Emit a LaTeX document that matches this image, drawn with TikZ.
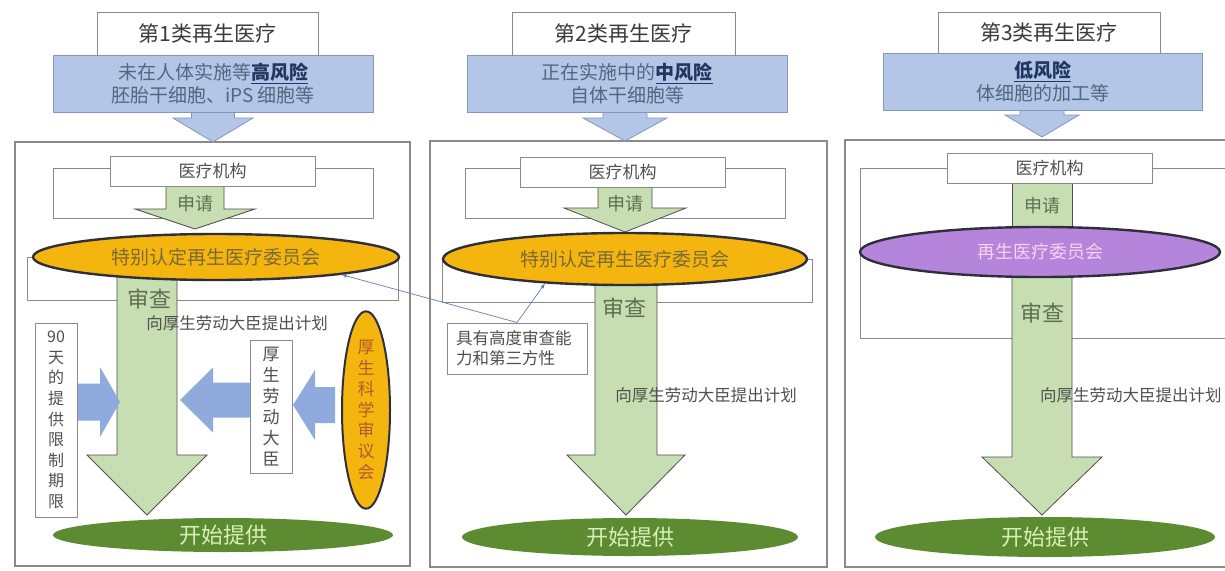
\documentclass[tikz,border=0pt]{standalone}
\usepackage{fontspec}
\newfontfamily\cjk{Noto Sans CJK SC}
\usetikzlibrary{shapes.geometric}

\definecolor{framegray}{HTML}{8A8A8A}
\definecolor{titletext}{HTML}{3A3A3A}
\definecolor{bodytext}{HTML}{505050}
\definecolor{riskfill}{HTML}{B4C6E7}
\definecolor{riskline}{HTML}{8496BC}
\definecolor{risktext}{HTML}{56657F}
\definecolor{hitext}{HTML}{22365F}
\definecolor{ringyellow}{HTML}{F4B60E}
\definecolor{ringline}{HTML}{2F2F3C}
\definecolor{ringtext}{HTML}{7C6838}
\definecolor{councilred}{HTML}{B35A2C}
\definecolor{boardpurple}{HTML}{B485DA}
\definecolor{boardtext}{HTML}{F6D3F1}
\definecolor{startgreen}{HTML}{5C8B31}
\definecolor{starttext}{HTML}{D8EFB6}
\definecolor{armgreen}{HTML}{C6DEB1}
\definecolor{armline}{HTML}{4F4F4F}
\definecolor{armtext}{HTML}{5E6E52}
\definecolor{sideblue}{HTML}{8FAADC}
\definecolor{noteblue}{HTML}{5F7FB3}

\newcommand{\riskword}[1]{\textbf{\color{hitext}\underline{#1}}}
% fat arrow pointing down: style, x, top, neck, tip, half shaft, half head
\newcommand{\fatarrow}[7]{\draw[#1] (#2-#6,#3) -- (#2+#6,#3) -- (#2+#6,#4) -- (#2+#7,#4) -- (#2,#5) -- (#2-#7,#4) -- (#2-#6,#4) -- cycle;}
% fat arrow sideways: style, tail, neck, tip, y, half shaft, half head
\newcommand{\sidearrow}[7]{\fill[#1] (#2,#5-#6) -- (#3,#5-#6) -- (#3,#5-#7) -- (#4,#5) -- (#3,#5+#7) -- (#3,#5+#6) -- (#2,#5+#6) -- cycle;}

\begin{document}
\begin{tikzpicture}[x=1pt,y=-1pt,font=\cjk,
    framebox/.style={draw=framegray,line width=1.2pt},
    plainbox/.style={draw=framegray,fill=white,line width=1pt,inner sep=0pt,text=bodytext},
    titlebox/.style={plainbox,text=titletext,font=\cjk\fontsize{21}{25}\selectfont},
    riskbox/.style={draw=riskline,fill=riskfill,line width=1pt,inner sep=0pt,align=center,
        text=risktext,font=\cjk\fontsize{19}{23}\selectfont},
    riskarrow/.style={draw=riskline,fill=riskfill,line width=0.8pt},
    greenarrow/.style={draw=armline,fill=armgreen,line width=0.8pt},
    unitbox/.style={plainbox,minimum width=205pt,minimum height=30pt,font=\cjk\fontsize{17}{20}\selectfont},
    armlabel/.style={text=armtext,font=\cjk\fontsize{18}{21}\selectfont},
    checklabel/.style={text=armtext,font=\cjk\fontsize{22}{26}\selectfont},
    planlabel/.style={text=bodytext,font=\cjk\fontsize{16.5}{20}\selectfont},
    ring/.style={ellipse,draw=ringline,line width=2.4pt,inner sep=0pt},
    startring/.style={ellipse,fill=startgreen,inner sep=0pt,text=starttext,
        font=\cjk\fontsize{22}{26}\selectfont},
    noteline/.style={->,>=latex,draw=noteblue,line width=0.7pt}
]
\useasboundingbox (0,0) rectangle (1225,570);

% outer frames
\draw[framebox] (15,142) rectangle (410,566);
\draw[framebox] (430,141) rectangle (827,567);
\draw[framebox] (845,140) rectangle (1240,567);

% categories
\fatarrow{riskarrow}{213}{106}{118}{142}{21.5}{40}
\fatarrow{riskarrow}{625}{106}{118}{141}{22}{42}
\fatarrow{riskarrow}{1042}{104}{115}{137}{22}{37}
\node[titlebox,minimum width=221pt,minimum height=43pt] (titleA) at (207.5,33.5) {第1类再生医疗};
\node[titlebox,minimum width=223pt,minimum height=43pt] (titleB) at (623.5,33.5) {第2类再生医疗};
\node[titlebox,minimum width=222pt,minimum height=41pt] (titleC) at (1049,32.5) {第3类再生医疗};
\node[riskbox,minimum width=320pt,minimum height=57pt] (riskA) at (213,83.5)
    {未在人体实施等\riskword{高风险}\\胚胎干细胞、iPS 细胞等};
\node[riskbox,minimum width=320pt,minimum height=57pt] (riskB) at (627,83.5)
    {正在实施中的\riskword{中风险}\\自体干细胞等};
\node[riskbox,minimum width=319pt,minimum height=57pt] (riskC) at (1042.5,81.5)
    {\riskword{低风险}\\体细胞的加工等};

% panel 1
\draw[plainbox] (53,168) rectangle (373,218);
\fatarrow{greenarrow}{195}{180}{209}{229}{29}{60}
\node[unitbox] (unitA) at (212.5,171.5) {医疗机构};
\draw[plainbox] (27,257) rectangle (398,300);
\fatarrow{greenarrow}{147}{257}{455}{515}{30}{60}
\node[ring,fill=ringyellow,minimum width=366pt,minimum height=46pt,text=ringtext,
    font=\cjk\fontsize{19}{23}\selectfont] (boardA) at (216,257) {特别认定再生医疗委员会};
\node[armlabel] (reqA) at (195,204) {申请};
\node[checklabel] (checkA) at (149,299) {审查};
\node[planlabel] (planA) at (237,323) {向厚生劳动大臣提出计划};
\node[plainbox,minimum width=42pt,minimum height=194pt,align=center,
    font=\cjk\fontsize{16}{20.6}\selectfont] (limit) at (56,420)
    {90\\天\\的\\提\\供\\限\\制\\期\\限};
\node[plainbox,minimum width=42pt,minimum height=133pt,align=center,
    font=\cjk\fontsize{17}{21}\selectfont] (minister) at (271,406.5)
    {厚\\生\\劳\\动\\大\\臣};
\node[ring,fill=ringyellow,line width=2pt,minimum width=48pt,minimum height=165pt,align=center,
    text=councilred,font=\cjk\fontsize{17}{20.8}\selectfont] (council) at (366,410)
    {厚\\生\\科\\学\\审\\议\\会};
\sidearrow{sideblue}{78}{100}{120}{402}{18.5}{35}
\sidearrow{sideblue}{250}{213}{180}{400}{17.5}{32.5}
\sidearrow{sideblue}{335}{315}{293}{405}{18}{35}
\node[startring,minimum width=340pt,minimum height=34pt] (startA) at (223,535) {开始提供};

% panel 2
\draw[plainbox] (465,168) rectangle (785,218);
\fatarrow{greenarrow}{625}{180}{208}{232}{27}{61}
\node[unitbox] (unitB) at (622.5,172) {医疗机构};
\draw[plainbox] (442,259) rectangle (812,302);
\fatarrow{greenarrow}{626}{259}{455}{515}{31}{59}
\node[ring,fill=ringyellow,minimum width=364pt,minimum height=52pt,text=ringtext,
    font=\cjk\fontsize{19}{23}\selectfont] (boardB) at (625,259) {特别认定再生医疗委员会};
\node[armlabel] (reqB) at (625,204) {申请};
\node[checklabel] (checkB) at (624,308) {审查};
\node[planlabel] (planB) at (706,395) {向厚生劳动大臣提出计划};
\node[plainbox,minimum height=51pt,text width=122pt,inner xsep=9pt,align=left,
    font=\cjk\fontsize{16.5}{20}\selectfont] (note) at (517,348.5)
    {具有高度审查能\\力和第三方性};
\draw[noteline] (note.north) -- (boardA.-8);
\draw[noteline] (note.north) -- (boardB.197);
\node[startring,minimum width=336pt,minimum height=38pt] (startB) at (630,537) {开始提供};

% panel 3
\draw[plainbox] (860,168) rectangle (1240,338);
\draw[greenarrow] (1012,178) rectangle (1072,245);
\fatarrow{greenarrow}{1042}{252}{457}{515}{30}{60}
\node[unitbox] (unitC) at (1049.5,168) {医疗机构};
\node[ring,fill=boardpurple,minimum width=360pt,minimum height=50pt,text=boardtext,
    font=\cjk\fontsize{18}{22}\selectfont] (boardC) at (1040,252) {再生医疗委员会};
\node[armlabel] (reqC) at (1042,206) {申请};
\node[checklabel] (checkC) at (1042,313) {审查};
\node[planlabel,anchor=west,inner sep=0pt] (planC) at (1040,395) {向厚生劳动大臣提出计划};
\node[startring,minimum width=340pt,minimum height=40pt] (startC) at (1045,537) {开始提供};
\end{tikzpicture}
\end{document}
